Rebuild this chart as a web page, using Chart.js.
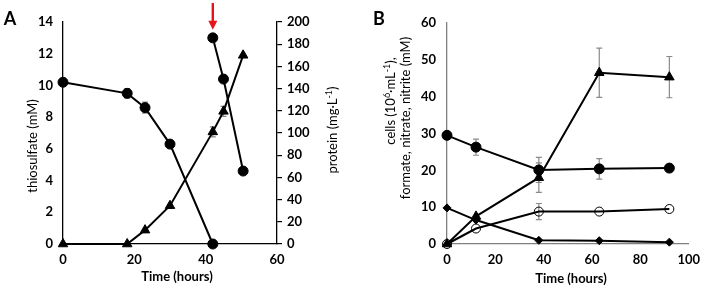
<!DOCTYPE html>
<html><head><meta charset="utf-8">
<script src="https://cdn.jsdelivr.net/npm/chart.js@4"></script>
<style>
html,body{margin:0;padding:0;background:#fff;overflow:hidden}
#wrap{position:relative;width:708px;height:289px}
canvas{position:absolute;top:0}
#ca{left:0}#cb{left:354px}
</style></head><body>
<div id="wrap"><canvas id="ca" width="354" height="289"></canvas><canvas id="cb" width="354" height="289"></canvas></div>
<script>
// ---- Panel A data ----
const timeA1 = [0, 18, 23, 30, 42];
const thiosulfateA1 = [10.2, 9.5, 8.6, 6.3, 0];
const thiosulfateErrA1 = [0, 0.3, 0.35, 0, 0];
const timeA2 = [42, 45, 50.5];
const thiosulfateA2 = [13, 10.4, 4.6];
const thiosulfateErrA2 = [0, 0, 0];
const timeProtein = [0, 18, 23, 30, 42, 45, 50.5];
const protein = [0, 0, 12.5, 34.5, 101, 119.5, 170];
const proteinErr = [0, 0, 0, 0, 4.5, 4.5, 0];
const arrowTime = 42;
const arrowValue = 13;

// ---- Panel B data ----
const timeB = [0, 12, 38, 63, 92];
const circleSeries = [29.5, 26.3, 20.1, 20.4, 20.6];
const circleErr = [0, 2.2, 3.4, 2.8, 0];
const triangleSeries = [0, 7.5, 18, 46.5, 45.3];
const triangleErr = [0, 0, 4, 6.7, 5.6];
const openCircleSeries = [0, 4.2, 8.8, 8.8, 9.5];
const openCircleErr = [0, 0, 2.2, 0, 0];
const diamondSeries = [9.8, 6.5, 1.0, 0.9, 0.5];
const diamondErr = [0, 0, 0, 0, 0];

// ---- tick ranges ----
const xTicksA = {min: 0, max: 60, step: 20};
const yTicksA = {min: 0, max: 14, step: 2};
const y2TicksA = {min: 0, max: 200, step: 20};
const xTicksB = {min: 0, max: 100, step: 20};
const yTicksB = {min: 0, max: 60, step: 10};

const pts = (xs, ys) => xs.map((x, i) => ({x: x, y: ys[i]}));
const tickFont = {family: 'Lato', size: 13, weight: 'bold'};

const errorBars = {
  id: 'errorBars',
  beforeDatasetsDraw(chart) {
    const ctx = chart.ctx;
    chart.data.datasets.forEach((ds, di) => {
      if (!ds.errors) return;
      const meta = chart.getDatasetMeta(di);
      const ys = chart.scales[ds.yAxisID || 'y'];
      ctx.save();
      ctx.strokeStyle = '#8a8a8a';
      ctx.lineWidth = 1.2;
      meta.data.forEach((el, i) => {
        const e = ds.errors[i];
        if (!e) return;
        const v = ds.data[i].y;
        const top = ys.getPixelForValue(v + e), bot = ys.getPixelForValue(v - e);
        ctx.beginPath();
        ctx.moveTo(el.x, top); ctx.lineTo(el.x, bot);
        ctx.moveTo(el.x - 3, top); ctx.lineTo(el.x + 3, top);
        ctx.moveTo(el.x - 3, bot); ctx.lineTo(el.x + 3, bot);
        ctx.stroke();
      });
      ctx.restore();
    });
  }
};

// text items: segments with optional superscript
const texts = {
  id: 'texts',
  afterDraw(chart, args, opts) {
    const ctx = chart.ctx;
    (opts.items || []).forEach(t => {
      ctx.save();
      ctx.fillStyle = '#000';
      ctx.textAlign = 'left';
      ctx.textBaseline = 'middle';
      ctx.translate(t.x, t.y);
      if (t.rot) ctx.rotate(t.rot);
      const segs = Array.isArray(t.text) ? t.text : [{s: t.text}];
      const fontFor = sg => sg.sup ? t.supFont : t.font;
      let w = 0;
      segs.forEach(sg => { ctx.font = fontFor(sg); w += ctx.measureText(sg.s).width; });
      let x = -w / 2;
      segs.forEach(sg => {
        ctx.font = fontFor(sg);
        ctx.fillText(sg.s, x, sg.sup ? -4 : 0);
        x += ctx.measureText(sg.s).width;
      });
      ctx.restore();
    });
    if (opts.arrow) {
      const xs = chart.scales.x, ys = chart.scales.y;
      const ax = xs.getPixelForValue(opts.arrow.x);
      const tip = ys.getPixelForValue(opts.arrow.y) - 8;
      ctx.save();
      ctx.strokeStyle = '#e8141b';
      ctx.fillStyle = '#e8141b';
      ctx.lineWidth = 2.4;
      ctx.beginPath(); ctx.moveTo(ax, 3); ctx.lineTo(ax, tip - 7); ctx.stroke();
      ctx.beginPath(); ctx.moveTo(ax - 4.5, tip - 9); ctx.lineTo(ax + 4.5, tip - 9); ctx.lineTo(ax, tip); ctx.closePath(); ctx.fill();
      ctx.restore();
    }
  }
};

function lineDs(label, data, errs, style, radius, fill, yAxisID) {
  return {
    label: label, data: data, errors: errs, yAxisID: yAxisID || 'y',
    showLine: true, borderColor: '#000', borderWidth: 2,
    pointStyle: style, pointRadius: radius, pointHoverRadius: radius,
    pointBackgroundColor: fill, pointBorderColor: '#000', pointBorderWidth: 1,
    clip: false
  };
}

Chart.defaults.font.family = 'Lato';
Chart.defaults.color = '#000';

new Chart(document.getElementById('ca'), {
  type: 'scatter',
  data: {datasets: [
    lineDs('thiosulfate', pts(timeA1, thiosulfateA1), thiosulfateErrA1, 'circle', 5, '#000'),
    lineDs('thiosulfate (refed)', pts(timeA2, thiosulfateA2), thiosulfateErrA2, 'circle', 5, '#000'),
    lineDs('protein', pts(timeProtein, protein), proteinErr, 'triangle', 5.5, '#000', 'y2')
  ]},
  options: {
    responsive: false, animation: false,
    layout: {padding: {top: 22, left: 0, right: 0, bottom: 0}},
    plugins: {
      legend: {display: false}, tooltip: {enabled: false},
      texts: {
        items: [
          {text: 'A', x: 10, y: 19, font: 'bold 18px Lato'},
          {text: 'thiosulfate (mM)', x: 33, y: 146, rot: -Math.PI / 2, font: '13px Lato'},
          {text: [{s: 'protein (mg·L'}, {s: '-1', sup: true}, {s: ')'}], x: 333, y: 130, rot: -Math.PI / 2, font: '13px Lato', supFont: '9px Lato'},
          {text: 'Time (hours)', x: 177, y: 277, font: 'bold 13px Lato'}
        ],
        arrow: {x: arrowTime, y: arrowValue}
      }
    },
    scales: {
      x: {type: 'linear', min: xTicksA.min, max: xTicksA.max,
        ticks: {stepSize: xTicksA.step, font: tickFont, padding: 8, color: '#000'},
        grid: {display: false, drawTicks: false}, border: {display: true, color: '#000', width: 1.3},
        afterFit: s => { s.height = 45; }},
      y: {type: 'linear', position: 'left', min: yTicksA.min, max: yTicksA.max,
        ticks: {stepSize: yTicksA.step, font: tickFont, padding: 10, color: '#000'},
        grid: {display: false, drawTicks: false}, border: {display: true, color: '#000', width: 1.3},
        afterFit: s => { s.width = 63; }},
      y2: {type: 'linear', position: 'right', min: y2TicksA.min, max: y2TicksA.max,
        ticks: {stepSize: y2TicksA.step, font: tickFont, padding: 5, color: '#000'},
        grid: {display: true, drawOnChartArea: false, drawTicks: true, tickLength: 5, color: '#000', lineWidth: 1.2},
        border: {display: true, color: '#000', width: 1.3},
        afterFit: s => { s.width = 77; }}
    }
  },
  plugins: [errorBars, texts]
});

new Chart(document.getElementById('cb'), {
  type: 'scatter',
  data: {datasets: [
    lineDs('circles', pts(timeB, circleSeries), circleErr, 'circle', 5, '#000'),
    lineDs('triangles', pts(timeB, triangleSeries), triangleErr, 'triangle', 5.5, '#000'),
    lineDs('open circles', pts(timeB, openCircleSeries), openCircleErr, 'circle', 4.5, 'rgba(0,0,0,0)'),
    lineDs('diamonds', pts(timeB, diamondSeries), diamondErr, 'rectRot', 4, '#000')
  ]},
  options: {
    responsive: false, animation: false,
    layout: {padding: {top: 23, left: 0, right: 14, bottom: 0}},
    plugins: {
      legend: {display: false}, tooltip: {enabled: false},
      texts: {
        items: [
          {text: 'B', x: 25, y: 19, font: 'bold 18px Lato'},
          {text: [{s: 'cells (10'}, {s: '6', sup: true}, {s: '·mL'}, {s: '-1', sup: true}, {s: '),'}], x: 37, y: 101, rot: -Math.PI / 2, font: '13px Lato', supFont: '9px Lato'},
          {text: 'formate, nitrate, nitrite (mM)', x: 52, y: 118, rot: -Math.PI / 2, font: '13px Lato'},
          {text: 'Time (hours)', x: 217, y: 279, font: 'bold 13px Lato'}
        ]
      }
    },
    scales: {
      x: {type: 'linear', min: xTicksB.min, max: xTicksB.max,
        ticks: {stepSize: xTicksB.step, font: tickFont, padding: 8, color: '#000'},
        grid: {display: false, drawTicks: false}, border: {display: true, color: '#808080', width: 1.3},
        afterFit: s => { s.height = 45; }},
      y: {type: 'linear', position: 'left', min: yTicksB.min, max: yTicksB.max,
        ticks: {stepSize: yTicksB.step, font: tickFont, padding: 11, color: '#000'},
        grid: {display: false, drawTicks: false}, border: {display: true, color: '#808080', width: 1.3},
        afterFit: s => { s.width = 93; }}
    }
  },
  plugins: [errorBars, texts]
});
</script>
</body></html>
